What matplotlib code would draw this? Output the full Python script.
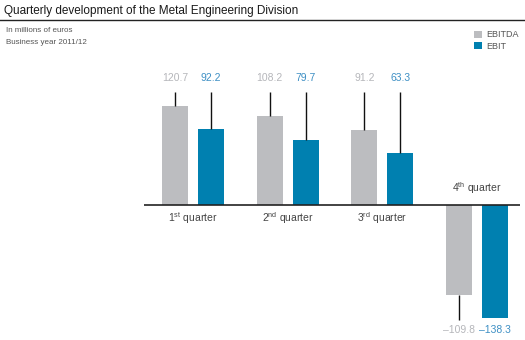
import matplotlib
matplotlib.use("Agg")
import matplotlib.pyplot as plt
import numpy as np

plt.rcParams['font.family'] = ['Liberation Sans', 'DejaVu Sans']
plt.rcParams['mathtext.fontset'] = 'custom'
plt.rcParams['mathtext.rm'] = 'Liberation Sans'

quarters = ["1$^{\\rm st}$ quarter", "2$^{\\rm nd}$ quarter", "3$^{\\rm rd}$ quarter", "4$^{\\rm th}$ quarter"]
ebitda = [120.7, 108.2, 91.2, -109.8]
ebit = [92.2, 79.7, 63.3, -138.3]

grey = "#bcbdc0"
blue = "#0080b0"
grey_txt = "#b5b6ba"
blue_txt = "#3d8fc4"

W, H = 525, 340
fig = plt.figure(figsize=(W / 100, H / 100), dpi=100)

# axes placed in pixel terms: baseline at y=205 px, 0.82 px per unit
ax = fig.add_axes([144 / W, 5 / H, (520 - 144) / W, (335 - 70) / H])
ax.set_ylim(-158.5, 164.6)
ax.set_xlim(-0.517, 3.453)
ax.axis("off")

x = np.arange(len(quarters))
off = 0.19
bw = 0.275
b1 = ax.bar(x - off, ebitda, bw, color=grey, label="EBITDA")
b2 = ax.bar(x + off, ebit, bw, color=blue, label="EBIT")
ax.axhline(0, color="#222222", lw=1.2)

for i in range(len(quarters)):
    for xx, v, c in [(x[i] - off, ebitda[i], grey_txt), (x[i] + off, ebit[i], blue_txt)]:
        if v > 0:
            ax.vlines(xx, v, 138, color="#111111", lw=1)
            ax.text(xx, 155, f"{v:.1f}", color=c, ha="center", va="center", fontsize=7.5)
        else:
            if v > -130:
                ax.vlines(xx, v, -140, color="#111111", lw=1)
            ax.text(xx, -152, f"\u2013{abs(v):.1f}", color=c, ha="center", va="center", fontsize=7.5)
    if ebitda[i] > 0:
        ax.text(x[i], -16, quarters[i], ha="center", va="center", fontsize=7.5, color="#444444")
    else:
        ax.text(x[i], 21, quarters[i], ha="center", va="center", fontsize=7.5, color="#444444")

# header
fig.text(4 / W, 1 - 11 / H, "Quarterly development of the Metal Engineering Division",
         fontsize=8.5, color="#1a1a1a", va="center", ha="left")
fig.add_artist(plt.Line2D([0, 1], [1 - 19.5 / H, 1 - 19.5 / H], color="#222222", lw=1))
fig.text(6 / W, 1 - 31 / H, "In millions of euros", fontsize=5.8, color="#555555", va="center")
fig.text(6 / W, 1 - 42 / H, "Business year 2011/12", fontsize=5.8, color="#555555", va="center")

fig.legend(handles=[b1, b2], loc="upper left", bbox_to_anchor=(468 / W, 1 - 24 / H),
           frameon=False, fontsize=6.5, handlelength=0.8, handleheight=0.8,
           handletextpad=0.5, labelspacing=0.25, labelcolor="#555555", borderpad=0.2)

fig.savefig("out.png", dpi=100)
